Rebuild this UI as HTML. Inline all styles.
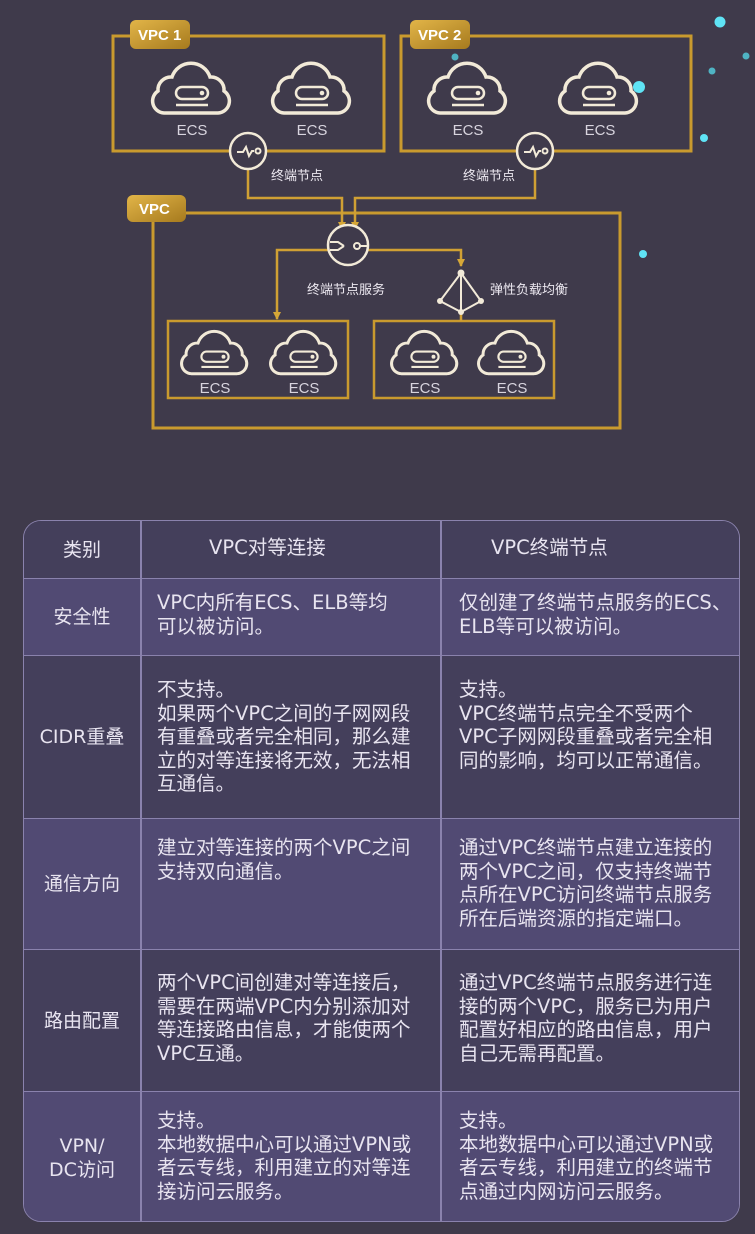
<!DOCTYPE html>
<html><head><meta charset="utf-8"><style>
body{margin:0;width:755px;height:1234px;background:#3f3a4b;position:relative;overflow:hidden;font-family:"Liberation Sans","Noto Sans CJK SC",sans-serif;}
svg{position:absolute;left:0;top:0}
.tbl{position:absolute;left:23px;top:520px;width:717px;height:702px;border:1.5px solid #8a82ad;border-radius:18px;overflow:hidden;box-sizing:border-box;font-family:"DejaVu Sans","Noto Sans CJK SC",sans-serif}
.row{position:absolute;left:0;width:100%;border-top:1.5px solid #8a82ad;box-sizing:border-box}
.row:first-child{border-top:none}
.l{background:#514a73}.d{background:#443f5b}
.c1{position:absolute;left:0;width:116px;height:100%;display:flex;align-items:center;justify-content:center;text-align:center;color:#e8e4f0;font-size:19px;line-height:24px}
.c2,.c3{position:absolute;color:#e8e4f0;font-size:19.5px;line-height:23.5px;white-space:nowrap}
.c2{left:133px}.c3{left:435px}
.vl{position:absolute;top:0;width:1.5px;height:100%;background:#8a82ad}
</style></head><body>
<svg width="755" height="500" viewBox="0 0 755 500">
<defs>
<linearGradient id="g" x1="0" y1="0" x2="1" y2="1"><stop offset="0" stop-color="#e2b548"/><stop offset="1" stop-color="#a67a1e"/></linearGradient>
<g id="cloud"><path d="M-28,22 a12,12 0 0 1 -6,-22 a13,13 0 0 1 14,-14 a20,20 0 0 1 38,0 a13,13 0 0 1 14,14 a12,12 0 0 1 -6,22 z" fill="none" stroke="#f2ead8" stroke-width="3.5"/><rect x="-16" y="-4" width="32" height="12" rx="6" fill="none" stroke="#f2ead8" stroke-width="2.5"/><circle cx="10" cy="2" r="2.3" fill="#f2ead8"/><line x1="-16" y1="14" x2="16" y2="14" stroke="#f2ead8" stroke-width="2.5"/></g>
<marker id="a" markerWidth="8" markerHeight="8" refX="7" refY="4" orient="auto" markerUnits="userSpaceOnUse"><path d="M0,0 L8,4 L0,8 z" fill="#d6a737"/></marker>
</defs>
<g fill="none" stroke="#c99a2e" stroke-width="3">
<rect x="113" y="36" width="271" height="115"/>
<rect x="401" y="36" width="290" height="115"/>
<rect x="153" y="213" width="467" height="215"/>
<rect x="168" y="321" width="180" height="77" stroke-width="2.5"/>
<rect x="374" y="321" width="180" height="77" stroke-width="2.5"/>
</g>
<g fill="none" stroke="#d0a034" stroke-width="2.5">
<polyline points="248,169 248,198 342,198 342,229" marker-end="url(#a)"/>
<polyline points="535,169 535,198 355,198 355,229" marker-end="url(#a)"/>
<polyline points="328,250 277,250 277,319" marker-end="url(#a)"/>
<polyline points="368,250 461,250 461,266" marker-end="url(#a)"/>
<line x1="461" y1="312" x2="461" y2="321"/>
</g>
<rect x="130" y="20" width="60" height="29" rx="6" fill="url(#g)"/>
<rect x="410" y="20" width="60" height="29" rx="6" fill="url(#g)"/>
<rect x="127" y="195" width="59" height="27" rx="6" fill="url(#g)"/>
<g fill="#fff" font-size="15" font-weight="bold" font-family="Liberation Sans,sans-serif"><text x="138" y="40">VPC 1</text><text x="418" y="40">VPC 2</text><text x="139" y="214">VPC</text></g>
<use href="#cloud" transform="translate(192,91)"/><use href="#cloud" transform="translate(312,91)"/>
<use href="#cloud" transform="translate(468,91)"/><use href="#cloud" transform="translate(599,91)"/>
<use href="#cloud" transform="translate(215,355) scale(0.85)"/><use href="#cloud" transform="translate(304,355) scale(0.85)"/>
<use href="#cloud" transform="translate(425,355) scale(0.85)"/><use href="#cloud" transform="translate(512,355) scale(0.85)"/>
<g fill="#d8d4de" font-size="15" font-family="Liberation Sans,sans-serif" text-anchor="middle">
<text x="192" y="135">ECS</text><text x="312" y="135">ECS</text><text x="468" y="135">ECS</text><text x="600" y="135">ECS</text>
<text x="215" y="393">ECS</text><text x="304" y="393">ECS</text><text x="425" y="393">ECS</text><text x="512" y="393">ECS</text>
</g>
<g fill="#3f3a4b" stroke="#f2ead8" stroke-width="2.5">
<circle cx="248" cy="151" r="18"/><circle cx="535" cy="151" r="18"/><circle cx="348" cy="245" r="20"/>
</g>
<g fill="none" stroke="#f2ead8" stroke-width="2">
<path d="M237,152 h6 l3,-5 l3,9 l3,-5 h2"/><circle cx="258" cy="151" r="2.5"/>
<path d="M524,152 h6 l3,-5 l3,9 l3,-5 h2"/><circle cx="545" cy="151" r="2.5"/>
<path d="M330,242 h8 l6,4 M330,250 h8 l6,-4"/><circle cx="357" cy="246" r="3"/><line x1="360" y1="246" x2="368" y2="246"/>
<path d="M461,273 L440,301 L461,312 L481,301 Z M461,273 V312"/>
</g>
<g fill="#f2ead8"><circle cx="461" cy="273" r="3.5"/><circle cx="440" cy="301" r="3"/><circle cx="481" cy="301" r="3"/><circle cx="461" cy="312" r="3"/></g>
<g fill="#ece8f0" font-size="13" font-family="Liberation Sans,Noto Sans CJK SC,sans-serif">
<text x="271" y="180">终端节点</text><text x="463" y="180">终端节点</text>
<text x="307" y="294">终端节点服务</text><text x="490" y="294">弹性负载均衡</text>
</g>
<g fill="#5fe3f5"><circle cx="720" cy="22" r="5.5"/><circle cx="639" cy="87" r="6"/><circle cx="704" cy="138" r="4"/><circle cx="643" cy="254" r="4"/></g>
<g fill="#4fb3c3"><circle cx="746" cy="56" r="3.5"/><circle cx="712" cy="71" r="3.5"/><circle cx="455" cy="57" r="3.5"/></g>
</svg>

<div class="tbl">
<div class="row d" style="top:0;height:57px"><div class="c1">类别</div><div class="c2" style="top:15px;left:185px">VPC对等连接</div><div class="c3" style="top:15px;left:467px">VPC终端节点</div><div class="vl" style="left:116px"></div><div class="vl" style="left:416px"></div></div>
<div class="row l" style="top:57px;height:77px"><div class="c1">安全性</div><div class="c2" style="top:12px">VPC内所有ECS、ELB等均<br>可以被访问。</div><div class="c3" style="top:12px;left:435px">仅创建了终端节点服务的ECS、<br>ELB等可以被访问。</div><div class="vl" style="left:116px"></div><div class="vl" style="left:416px"></div></div>
<div class="row d" style="top:134px;height:163px"><div class="c1">CIDR重叠</div><div class="c2" style="top:22px">不支持。<br>如果两个VPC之间的子网网段<br>有重叠或者完全相同，那么建<br>立的对等连接将无效，无法相<br>互通信。</div><div class="c3" style="top:22px">支持。<br>VPC终端节点完全不受两个<br>VPC子网网段重叠或者完全相<br>同的影响，均可以正常通信。</div><div class="vl" style="left:116px"></div><div class="vl" style="left:416px"></div></div>
<div class="row l" style="top:297px;height:131px"><div class="c1">通信方向</div><div class="c2" style="top:17px">建立对等连接的两个VPC之间<br>支持双向通信。</div><div class="c3" style="top:17px">通过VPC终端节点建立连接的<br>两个VPC之间，仅支持终端节<br>点所在VPC访问终端节点服务<br>所在后端资源的指定端口。</div><div class="vl" style="left:116px"></div><div class="vl" style="left:416px"></div></div>
<div class="row d" style="top:428px;height:142px"><div class="c1">路由配置</div><div class="c2" style="top:21px">两个VPC间创建对等连接后，<br>需要在两端VPC内分别添加对<br>等连接路由信息，才能使两个<br>VPC互通。</div><div class="c3" style="top:21px">通过VPC终端节点服务进行连<br>接的两个VPC，服务已为用户<br>配置好相应的路由信息，用户<br>自己无需再配置。</div><div class="vl" style="left:116px"></div><div class="vl" style="left:416px"></div></div>
<div class="row l" style="top:570px;height:132px"><div class="c1">VPN/<br>DC访问</div><div class="c2" style="top:17px">支持。<br>本地数据中心可以通过VPN或<br>者云专线，利用建立的对等连<br>接访问云服务。</div><div class="c3" style="top:17px">支持。<br>本地数据中心可以通过VPN或<br>者云专线，利用建立的终端节<br>点通过内网访问云服务。</div><div class="vl" style="left:116px"></div><div class="vl" style="left:416px"></div></div>
</div>
</body></html>
